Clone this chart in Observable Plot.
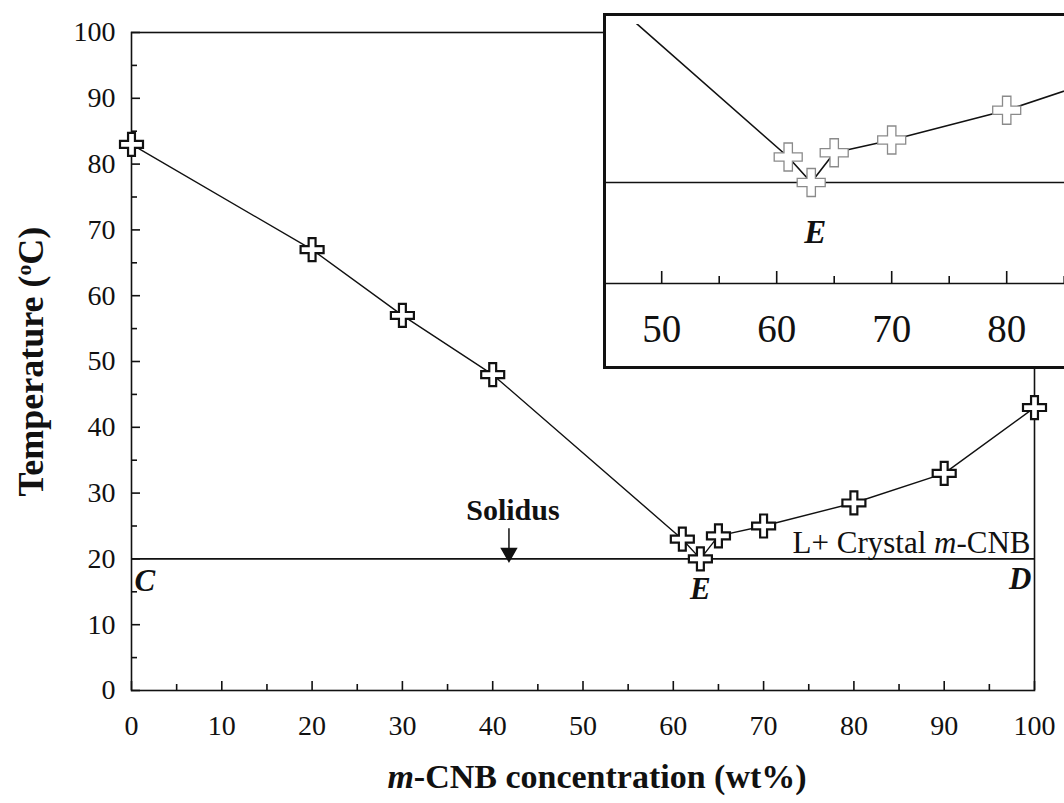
<!DOCTYPE html>
<html><head><meta charset="utf-8">
<script src="https://cdn.jsdelivr.net/npm/d3@7"></script>
<script src="https://cdn.jsdelivr.net/npm/@observablehq/plot@0.6"></script>
<style>
html,body{margin:0;padding:0;background:#fff;overflow:hidden;}
#wrap{position:relative;width:1064px;height:803px;}
#main{position:absolute;left:0;top:0;}
#inset{position:absolute;left:603px;top:13px;width:470px;height:350px;border:3px solid #111;background:#fff;overflow:hidden;}
</style></head>
<body><div id="wrap"><div id="main"></div><div id="inset"></div></div>
<script>
// ---- data ----
const concentration = [0, 20, 30, 40, 61, 63, 65, 70, 80, 90, 100];   // m-CNB wt%
const temperature   = [83, 67, 57, 48, 23, 20, 23.5, 25, 28.5, 33, 43]; // °C
const solidusT = 20;          // solidus temperature
const eutecticX = 63;         // eutectic composition
const arrowX = 41.8;          // solidus arrow position
const arrowTop = 24.6;
const xMajor = [0, 10, 20, 30, 40, 50, 60, 70, 80, 90, 100];
const xMinor = [5, 15, 25, 35, 45, 55, 65, 75, 85, 95];
const yMajor = [0, 10, 20, 30, 40, 50, 60, 70, 80, 90, 100];
const yMinor = [5, 15, 25, 35, 45, 55, 65, 75, 85, 95];
const insetMajor = [50, 60, 70, 80];
const insetMinor = [55, 65, 75, 85];

const data = concentration.map((x, i) => ({x, t: temperature[i]}));
const serif = '"Liberation Serif", "Times New Roman", serif';
const ink = "#111";

// open "plus" marker
const plus = {
  draw(ctx, size) {
    const a = Math.sqrt(size / Math.PI), t = a * 0.3;
    ctx.moveTo(-t, -a); ctx.lineTo(t, -a); ctx.lineTo(t, -t); ctx.lineTo(a, -t);
    ctx.lineTo(a, t); ctx.lineTo(t, t); ctx.lineTo(t, a); ctx.lineTo(-t, a);
    ctx.lineTo(-t, t); ctx.lineTo(-a, t); ctx.lineTo(-a, -t); ctx.lineTo(-t, -t);
    ctx.closePath();
  }
};

const one = [0];
const main = Plot.plot({
  width: 1064, height: 803,
  marginLeft: 131, marginRight: 30, marginTop: 32, marginBottom: 113,
  style: {fontFamily: serif, fontSize: "28px", color: ink, background: "#fff"},
  x: {domain: [0, 100]},
  y: {domain: [0, 100]},
  marks: [
    Plot.frame({stroke: ink, strokeWidth: 1.6}),
    Plot.ruleY([solidusT], {stroke: ink, strokeWidth: 1.6}),
    Plot.axisX(xMajor, {tickSize: -9, fill: "none", label: null, strokeWidth: 1.6}),
    Plot.axisX(xMinor, {tickSize: -6, fill: "none", label: null, strokeWidth: 1.6}),
    Plot.axisY(yMajor, {tickSize: -9, fill: "none", label: null, strokeWidth: 1.6}),
    Plot.axisY(yMinor, {tickSize: -6, fill: "none", label: null, strokeWidth: 1.6}),
    Plot.axisX(xMajor, {tickSize: 0, tickPadding: 25, label: "m-CNB concentration (wt%)", labelAnchor: "center", labelArrow: "none", labelOffset: 97}),
    Plot.axisY(yMajor, {tickSize: 0, tickPadding: 16, label: "Temperature (oC)", labelAnchor: "center", labelArrow: "none", labelOffset: 114}),
    Plot.line(data, {x: "x", y: "t", stroke: ink, strokeWidth: 1.4}),
    Plot.dot(data, {x: "x", y: "t", symbol: plus, r: 11.5, fill: "#fff", stroke: ink, strokeWidth: 2.2}),
    // solidus arrow
    Plot.ruleX(one, {x: () => arrowX, y1: () => arrowTop, y2: () => solidusT, stroke: ink, strokeWidth: 1.5}),
    Plot.dot(one, {x: () => arrowX, y: () => solidusT, dy: -6, symbol: "triangle", rotate: 180, r: 5.5, fill: ink, stroke: ink}),
    Plot.text(["Solidus"], {x: () => arrowX, y: () => solidusT, text: d => d, dx: 4, dy: -49, fontWeight: "bold", fontSize: 30}),
    // point labels
    Plot.text(["C"], {x: () => 0, y: () => solidusT, text: d => d, textAnchor: "start", dx: 3, dy: 22, fontWeight: "bold", fontStyle: "italic", fontSize: 31}),
    Plot.text(["E"], {x: () => eutecticX, y: () => solidusT, text: d => d, dy: 30, fontWeight: "bold", fontStyle: "italic", fontSize: 31}),
    Plot.text(["D"], {x: () => 100, y: () => solidusT, text: d => d, textAnchor: "end", dx: -3, dy: 20, fontWeight: "bold", fontStyle: "italic", fontSize: 31}),
    Plot.text(["L+ Crystal m-CNB"], {x: () => 100, y: () => solidusT, text: d => d, textAnchor: "end", dx: -4, dy: -16, fontSize: 31})
  ]
});
document.getElementById("main").appendChild(main);

const inset = Plot.plot({
  width: 470, height: 350,
  marginLeft: 0, marginRight: 0, marginTop: 8, marginBottom: 83,
  style: {fontFamily: serif, fontSize: "39px", color: ink, background: "#fff"},
  x: {domain: [45.2, 45.2 + 470 / 11.5]},
  y: {domain: [8.12, 38.59], axis: null},
  marks: [
    Plot.ruleY([solidusT], {stroke: ink, strokeWidth: 1.6}),
    Plot.frame({anchor: "bottom", stroke: ink, strokeWidth: 1.6}),
    Plot.axisX(insetMajor, {tickSize: -12, fill: "none", label: null, strokeWidth: 1.6}),
    Plot.axisX(insetMinor, {tickSize: -7, fill: "none", label: null, strokeWidth: 1.6}),
    Plot.axisX(insetMajor, {tickSize: 0, tickPadding: 31, label: null}),
    Plot.line(data, {x: "x", y: "t", stroke: ink, strokeWidth: 1.6, clip: true}),
    Plot.dot(data, {x: "x", y: "t", symbol: plus, r: 14, fill: "#fff", stroke: "#8a8a8a", strokeWidth: 1.3, clip: true}),
    Plot.text(["E"], {x: () => eutecticX, y: () => solidusT, text: d => d, dx: 4, dy: 50, fontWeight: "bold", fontStyle: "italic", fontSize: 33})
  ]
});
document.getElementById("inset").appendChild(inset);

// ---- rich text (italic m, superscript o, bold titles) ----
function rich(el, parts, attrs) {
  const s = d3.select(el);
  for (const k in (attrs || {})) s.attr(k, attrs[k]);
  s.text(null);
  for (const [txt, st] of parts) {
    const t = s.append("tspan").text(txt);
    for (const k in (st || {})) t.attr(k, st[k]);
  }
}
const svgMain = d3.select(main);
svgMain.selectAll("text").each(function () {
  const c = this.textContent.trim();
  if (c.startsWith("L+ Crystal")) rich(this, [["L+ Crystal "], ["m", {"font-style": "italic"}], ["-CNB"]]);
  else if (c.startsWith("m-CNB concentration")) rich(this, [["m", {"font-style": "italic", "dx": 14}], ["-CNB concentration (wt%)"]], {"font-weight": "bold", "font-size": 34});
  else if (c.startsWith("Temperature")) rich(this, [["Temperature ("], ["o", {"font-size": "0.6em", "baseline-shift": "super"}], ["C)"]], {"font-weight": "bold", "font-size": 36});
});
</script>
</body></html>
